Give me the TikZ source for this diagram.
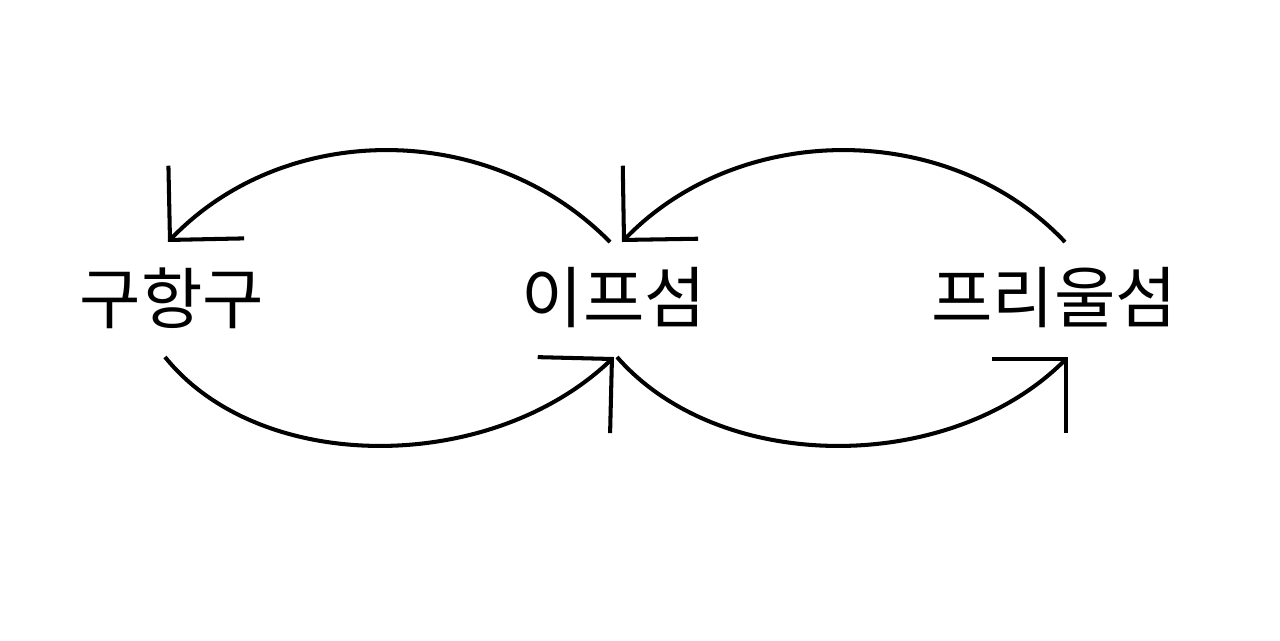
\documentclass[tikz,border=0pt]{standalone}
\usepackage{fontspec}
\newfontfamily\kr{Noto Sans CJK KR}
\usetikzlibrary{arrows.meta}
\begin{document}
\begin{tikzpicture}[x=0.02cm,y=-0.02cm,
  lbl/.style={font=\kr\fontsize{38}{40}\selectfont, inner sep=0pt},
  arc/.style={line width=2.3pt, -{Straight Barb[length=1.05cm,width=2.1cm,line width=2.3pt]}}]
\useasboundingbox (0,0) rectangle (1280,640);
\node[lbl] (g) at (172,298) {구항구};
\node[lbl] (i) at (614,298) {이프섬};
\node[lbl] (p) at (1054,298) {프리울섬};
\coordinate (a1) at (610,242); \coordinate (a2) at (168,242);
\coordinate (b1) at (165,357); \coordinate (b2) at (614,357);
\coordinate (c1) at (1065,242); \coordinate (c2) at (622,242);
\coordinate (d1) at (617,357); \coordinate (d2) at (1068,357);
\draw[arc] (a1) .. controls (490,120) and (285,120) .. (a2);
\draw[arc] (b1) .. controls (260,475) and (490,475) .. (b2);
\draw[arc] (c1) .. controls (950,120) and (740,120) .. (c2);
\draw[arc] (d1) .. controls (720,475) and (950,475) .. (d2);
\end{tikzpicture}
\end{document}
